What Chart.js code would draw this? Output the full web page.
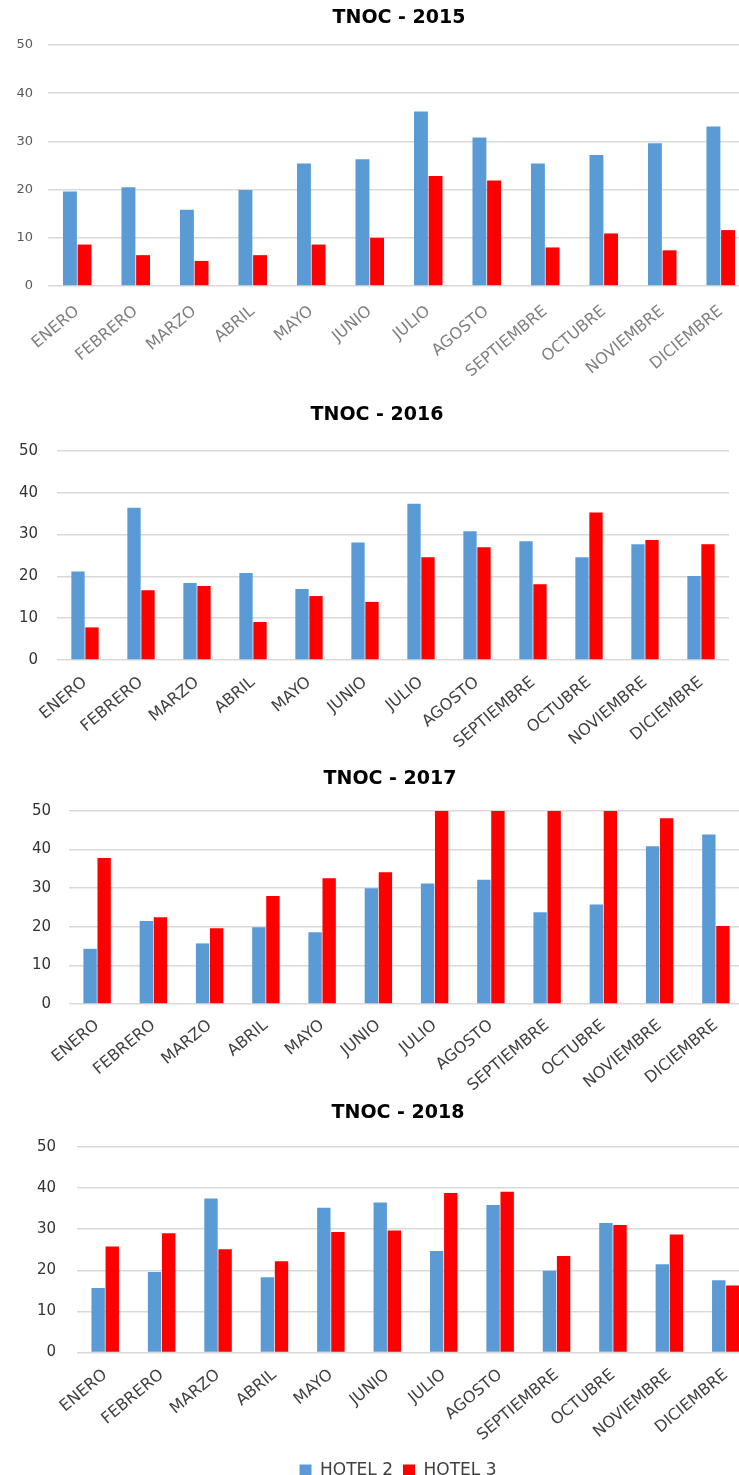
<!DOCTYPE html>
<html lang="es">
<head>
<meta charset="UTF-8" />
<title>TNOC 2015 - 2018</title>
<script src="https://cdn.jsdelivr.net/npm/chart.js"></script>
<style>
  html, body { margin: 0; padding: 0; background: #fff; overflow: hidden; width: 739px; height: 1475px; }
  .panel { position: absolute; left: 0; }
</style>
</head>
<body>

<div class="panel" style="top:0;width:798px;height:390px"><canvas id="c2015"></canvas></div>
<div class="panel" style="top:392px;width:754px;height:370px"><canvas id="c2016"></canvas></div>
<div class="panel" style="top:762px;width:780px;height:328px"><canvas id="c2017"></canvas></div>
<div class="panel" style="top:1090px;width:796px;height:399px"><canvas id="c2018"></canvas></div>

<script>
const meses = ['ENERO', 'FEBRERO', 'MARZO', 'ABRIL', 'MAYO', 'JUNIO', 'JULIO',
  'AGOSTO', 'SEPTIEMBRE', 'OCTUBRE', 'NOVIEMBRE', 'DICIEMBRE'];
const yTicks = [0, 10, 20, 30, 40, 50];

const hotel2_2015 = [19.6, 20.5, 15.8, 19.9, 25.4, 26.3, 36.2, 30.8, 25.4, 27.2, 29.6, 33.1];
const hotel3_2015 = [8.6, 6.4, 5.2, 6.4, 8.6, 10.0, 22.8, 21.9, 8.0, 10.9, 7.4, 11.6];

const hotel2_2016 = [21.2, 36.4, 18.4, 20.8, 17.0, 28.1, 37.4, 30.8, 28.4, 24.6, 27.7, 20.1];
const hotel3_2016 = [7.8, 16.7, 17.7, 9.1, 15.3, 13.9, 24.6, 27.0, 18.1, 35.3, 28.7, 27.7];

const hotel2_2017 = [14.3, 21.5, 15.7, 19.9, 18.6, 30.0, 31.2, 32.2, 23.8, 25.8, 40.9, 43.9];
const hotel3_2017 = [37.8, 22.5, 19.6, 28.0, 32.6, 34.1, 50, 50, 50, 50, 48.1, 20.2];

const hotel2_2018 = [15.7, 19.6, 37.5, 18.3, 35.2, 36.5, 24.7, 35.9, 19.9, 31.5, 21.5, 17.6];
const hotel3_2018 = [25.8, 29.0, 25.1, 22.2, 29.3, 29.7, 38.8, 39.1, 23.5, 31.0, 28.7, 16.3];

const FONT = "'DejaVu Sans', sans-serif";
const AZUL = '#5B9BD5';
const ROJO = '#FF0000';

function tnoc(id, year, h2, h3, o) {
  new Chart(document.getElementById(id), {
    type: 'bar',
    data: {
      labels: meses,
      datasets: [
        { label: 'HOTEL 2', data: h2, backgroundColor: AZUL, categoryPercentage: 0.5, barPercentage: 0.95 },
        { label: 'HOTEL 3', data: h3, backgroundColor: ROJO, categoryPercentage: 0.5, barPercentage: 0.95 }
      ]
    },
    options: {
      responsive: true,
      maintainAspectRatio: false,
      animation: false,
      plugins: {
        title: {
          display: true,
          text: 'TNOC - ' + year,
          color: '#000',
          font: { family: FONT, size: 19, weight: 'bold' },
          padding: { top: o.tTop, bottom: o.tBottom }
        },
        legend: o.legend ? {
          position: 'bottom',
          labels: {
            boxWidth: 12, boxHeight: 12, padding: 10,
            color: '#404040',
            font: { family: FONT, size: 17 }
          }
        } : { display: false },
        tooltip: { enabled: false }
      },
      scales: {
        x: {
          grid: { display: false, drawTicks: false },
          border: { display: false },
          ticks: {
            autoSkip: false, minRotation: 40, maxRotation: 40,
            padding: o.xPad, color: o.xColor,
            font: { family: FONT, size: 16 }
          },
          afterFit: s => { s.height = o.xHeight; }
        },
        y: {
          min: 0, max: 50,
          afterBuildTicks: s => { s.ticks = yTicks.map(v => ({ value: v })); },
          grid: { color: '#D9D9D9', lineWidth: 1.5, drawTicks: false },
          border: { display: false },
          ticks: { padding: o.yPad, color: o.yColor, font: { family: FONT, size: o.ySize } },
          afterFit: s => { s.width = o.left; }
        },
        // empty axis on the right, keeps the plot narrower than the title box
        margen: {
          type: 'linear', position: 'right',
          grid: { display: false }, border: { display: false },
          ticks: { display: false },
          afterFit: s => { s.width = o.right; }
        }
      }
    }
  });
}

tnoc('c2015', 2015, hotel2_2015, hotel3_2015, {
  tTop: 6.6, tBottom: 15.6, left: 48, right: 48, xHeight: 104, xPad: 16,
  xColor: '#7F7F7F', yColor: '#595959', ySize: 13, yPad: 15
});
tnoc('c2016', 2016, hotel2_2016, hotel3_2016, {
  tTop: 11.6, tBottom: 24.6, left: 57, right: 25, xHeight: 102, xPad: 13,
  xColor: '#404040', yColor: '#333', ySize: 15, yPad: 19
});
tnoc('c2017', 2017, hotel2_2017, hotel3_2017, {
  tTop: 5.6, tBottom: 20.6, left: 69, right: 36, xHeight: 86, xPad: 12,
  xColor: '#404040', yColor: '#333', ySize: 15, yPad: 18
});
tnoc('c2018', 2018, hotel2_2018, hotel3_2018, {
  tTop: 12.1, tBottom: 22.1, left: 77, right: 42, xHeight: 99.5, xPad: 13,
  xColor: '#404040', yColor: '#333', ySize: 15, yPad: 21, legend: true
});
</script>
</body>
</html>
